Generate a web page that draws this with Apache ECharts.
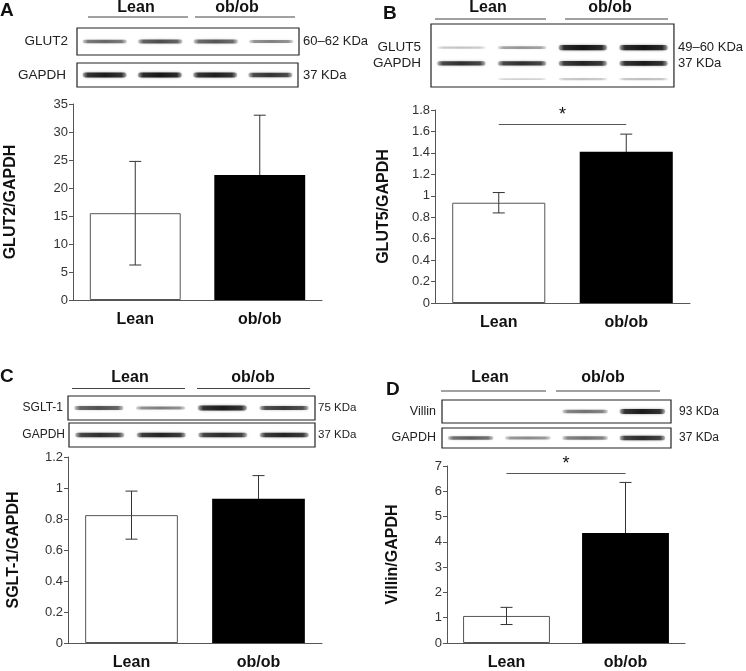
<!DOCTYPE html>
<html>
<head>
<meta charset="utf-8">
<script src="https://cdn.jsdelivr.net/npm/echarts@6/dist/echarts.min.js"></script>
<style>html,body{margin:0;padding:0;background:#fff;}#c{width:746px;height:671px;}</style>
</head>
<body>
<div id="c"></div>
<script>
// ---------- data ----------
const categories = ['Lean', 'ob/ob'];
const lanes = ['Lean 1', 'Lean 2', 'ob/ob 1', 'ob/ob 2'];

const glut2Mean = [15.5, 22.3];
const glut2Sd = [9.25, 10.7];
const glut5Mean = [0.935, 1.41];
const glut5Sd = [0.095, 0.165];
const sglt1Mean = [0.825, 0.93];
const sglt1Sd = [0.155, 0.15];
const villinMean = [1.07, 4.35];
const villinSd = [0.34, 2.0];

const yMax = [35, 1.8, 1.2, 7];
const yStep = [5, 0.2, 0.2, 1];
const sigLevel = [null, 1.665, null, 6.71];

// western blot band intensities (0..1) per lane
const glut2Band = [0.5, 0.62, 0.58, 0.38];
const gapdhBandA = [0.9, 0.95, 0.88, 0.75];
const glut5Band = [0.1, 0.3, 0.95, 0.95];
const gapdhBandB = [0.78, 0.78, 0.85, 0.9];
const nonspecBandB = [0.0, 0.05, 0.1, 0.12];
const sglt1Band = [0.6, 0.4, 0.9, 0.72];
const gapdhBandC = [0.78, 0.85, 0.8, 0.85];
const villinBand = [0.0, 0.0, 0.45, 0.9];
const gapdhBandD = [0.55, 0.35, 0.45, 0.8];

// ---------- layout / style ----------
const FONT = "'Liberation Sans', Arial, Helvetica, sans-serif";
const AX = '#555';

const grids = [], xAxes = [], yAxes = [], series = [];

function barPanel(g, means, sds, yName, nameGap, k) {
  const gi = grids.length;
  grids.push(Object.assign({ containLabel: false }, g));
  xAxes.push({
    gridIndex: gi, type: 'category', data: categories,
    axisLine: { lineStyle: { color: AX } },
    axisTick: { length: 5, lineStyle: { color: AX } },
    axisLabel: { fontFamily: FONT, fontSize: 16, fontWeight: 'bold', color: '#111', margin: 12 }
  });
  const yi = yAxes.length;
  yAxes.push({
    gridIndex: gi, type: 'value', min: 0, max: yMax[k], interval: yStep[k],
    axisLine: { show: true, lineStyle: { color: AX } },
    axisTick: { show: true, length: 4, lineStyle: { color: AX } },
    splitLine: { show: false },
    axisLabel: { fontFamily: FONT, fontSize: 13, color: '#333', margin: 5 },
    name: yName, nameLocation: 'middle', nameGap: nameGap,
    nameTextStyle: { fontFamily: FONT, fontSize: 16, fontWeight: 'bold', color: '#111' }
  });
  const bar = {
    type: 'bar', xAxisIndex: gi, yAxisIndex: yi, barWidth: '73%', silent: true,
    data: means.map((m, j) => ({
      value: m,
      itemStyle: j === 0 ? { color: '#fff', borderColor: '#555', borderWidth: 1 } : { color: '#000' }
    }))
  };
  if (sigLevel[k] != null) {
    bar.markLine = {
      symbol: 'none', silent: true, animation: false,
      lineStyle: { color: '#555', width: 1, type: 'solid' },
      label: { show: true, formatter: '*', position: 'middle', fontFamily: FONT, fontSize: 18, color: '#111', distance: 0 },
      data: [[{ coord: [categories[0], sigLevel[k]] }, { coord: [categories[1], sigLevel[k]] }]]
    };
  }
  series.push(bar);
  series.push({
    type: 'custom', xAxisIndex: gi, yAxisIndex: yi, silent: true, z: 5,
    data: means.map((m, j) => [j, m - sds[j], m, m + sds[j]]),
    renderItem: function (params, api) {
      const j = api.value(0);
      const lo = api.coord([j, api.value(1)]);
      const mid = api.coord([j, api.value(2)]);
      const hi = api.coord([j, api.value(3)]);
      const cw = 6;
      const st = { stroke: '#333', lineWidth: 1 };
      // lower whisker sits inside the bar: visible on the white bar, hidden on the black one
      const stLo = { stroke: j === 0 ? '#333' : '#000', lineWidth: 1 };
      return {
        type: 'group', children: [
          { type: 'line', shape: { x1: hi[0], y1: hi[1], x2: mid[0], y2: mid[1] }, style: st },
          { type: 'line', shape: { x1: hi[0] - cw, y1: hi[1], x2: hi[0] + cw, y2: hi[1] }, style: st },
          { type: 'line', shape: { x1: mid[0], y1: mid[1], x2: lo[0], y2: lo[1] }, style: stLo },
          { type: 'line', shape: { x1: lo[0] - cw, y1: lo[1], x2: lo[0] + cw, y2: lo[1] }, style: stLo }
        ]
      };
    }
  });
}

function blot(g, rowNames, kdaNames, rowsData, fs, mL, mR) {
  const gi = grids.length;
  grids.push(Object.assign({ show: true, borderColor: '#222', borderWidth: 1.2, backgroundColor: '#fff' }, g));
  xAxes.push({ gridIndex: gi, type: 'category', data: lanes, show: false });
  const yi = yAxes.length;
  const common = {
    gridIndex: gi, type: 'category', inverse: true,
    axisLine: { show: false }, axisTick: { show: false }, splitLine: { show: false }
  };
  yAxes.push(Object.assign({}, common, {
    data: rowNames, position: 'left',
    axisLabel: { interval: 0, fontFamily: FONT, fontSize: fs, color: '#222', margin: mL }
  }));
  yAxes.push(Object.assign({}, common, {
    data: kdaNames, position: 'right',
    axisLabel: { interval: 0, fontFamily: FONT, fontSize: fs - 0.5, color: '#222', margin: mR }
  }));
  const data = [];
  rowsData.forEach(rd => rd.vals.forEach((v, i) => data.push([i, rd.row, v])));
  series.push({
    type: 'custom', xAxisIndex: gi, yAxisIndex: yi, silent: true, data: data,
    renderItem: function (params, api) {
      const v = api.value(2);
      if (!v) return null;
      const c = api.coord([api.value(0), api.value(1)]);
      const s = api.size([1, 1]);
      const w = s[0] * 0.8, h = 1.8 + 3.4 * v;
      const a = 0.15 + 0.85 * v;
      const col = (al) => 'rgba(15,15,15,' + al + ')';
      return {
        type: 'rect',
        shape: { x: c[0] - w / 2, y: c[1] - h / 2, width: w, height: h, r: h / 2 },
        style: {
          fill: new echarts.graphic.LinearGradient(0, 0, 1, 0, [
            { offset: 0, color: col(a * 0.25) },
            { offset: 0.12, color: col(a * 0.85) },
            { offset: 0.5, color: col(a) },
            { offset: 0.88, color: col(a * 0.85) },
            { offset: 1, color: col(a * 0.25) }
          ]),
          shadowBlur: 2.5, shadowColor: col(0.55 * a)
        }
      };
    }
  });
}

// bar charts
barPanel({ left: 73, top: 104, width: 249, height: 196 }, glut2Mean, glut2Sd, 'GLUT2/GAPDH', 54, 0);
barPanel({ left: 435, top: 110, width: 255, height: 193 }, glut5Mean, glut5Sd, 'GLUT5/GAPDH', 43, 1);
barPanel({ left: 68, top: 457, width: 254, height: 192 }, sglt1Mean, sglt1Sd, 'SGLT-1/GAPDH', 46, 2);
barPanel({ left: 447, top: 466, width: 238, height: 182 }, villinMean, villinSd, 'Villin/GAPDH', 46, 3);

// blots
blot({ left: 77, top: 28, width: 222, height: 27 }, ['GLUT2'], ['60–62 KDa'], [{ row: 0, vals: glut2Band }], 13.5, 9, 4);
blot({ left: 77, top: 63, width: 221, height: 24 }, ['GAPDH'], ['37 KDa'], [{ row: 0, vals: gapdhBandA }], 13.5, 11, 5);
blot({ left: 431, top: 24, width: 246, height: 63 }, ['', 'GLUT5', 'GAPDH', ''], ['', '49–60 KDa', '37 KDa', ''],
  [{ row: 1, vals: glut5Band }, { row: 2, vals: gapdhBandB }, { row: 3, vals: nonspecBandB }], 13.5, 10, 4);
blot({ left: 68, top: 396, width: 247, height: 24 }, ['SGLT-1'], ['75 KDa'], [{ row: 0, vals: sglt1Band }], 12, 5, 3);
blot({ left: 69, top: 423, width: 246, height: 24 }, ['GAPDH'], ['37 KDa'], [{ row: 0, vals: gapdhBandC }], 12, 4, 3);
blot({ left: 442, top: 400, width: 229, height: 23 }, ['Villin'], ['93 KDa'], [{ row: 0, vals: villinBand }], 12.5, 6, 8);
blot({ left: 442, top: 428, width: 229, height: 20 }, ['GAPDH'], ['37 KDa'], [{ row: 0, vals: gapdhBandD }], 12.5, 6, 8);

// annotations: panel letters, group headers
const panelLetters = [['A', 0, 11], ['B', 383, 14.5], ['C', 0, 377.5], ['D', 386, 390.5]];
const headers = [
  { y: 8, ty: 17, items: [['Lean', 136, 88, 188], ['ob/ob', 237, 195, 295]] },
  { y: 8, ty: 19, items: [['Lean', 488, 435, 546], ['ob/ob', 610, 565, 668]] },
  { y: 378, ty: 388.5, items: [['Lean', 130, 72, 185], ['ob/ob', 253, 197, 310]] },
  { y: 378, ty: 391, items: [['Lean', 490, 441, 546], ['ob/ob', 603, 556, 660]] }
];
const graphic = [];
panelLetters.forEach(p => graphic.push({
  type: 'text', left: p[1], top: p[2] - 10, silent: true,
  style: { text: p[0], font: 'bold 19px ' + FONT, fill: '#111' }
}));
headers.forEach(h => h.items.forEach(it => {
  graphic.push({
    type: 'text', x: it[1], y: h.y, silent: true,
    style: { text: it[0], font: 'bold 16px ' + FONT, fill: '#111', align: 'center', verticalAlign: 'middle' }
  });
  graphic.push({
    type: 'line', silent: true, shape: { x1: it[2], y1: h.ty, x2: it[3], y2: h.ty },
    style: { stroke: '#444', lineWidth: 1 }
  });
}));

const chart = echarts.init(document.getElementById('c'), null, { renderer: 'canvas' });
chart.setOption({
  animation: false,
  backgroundColor: '#fff',
  textStyle: { fontFamily: FONT },
  grid: grids, xAxis: xAxes, yAxis: yAxes, series: series, graphic: graphic
});
</script>
</body>
</html>
